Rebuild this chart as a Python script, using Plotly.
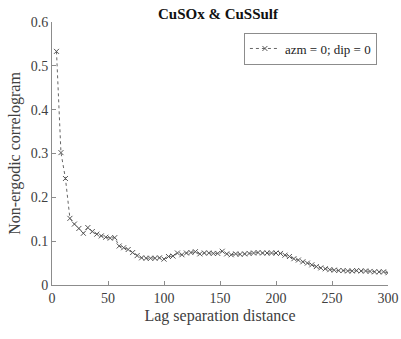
import plotly.graph_objects as go

# Lag distances (every 4 units) and correlogram values
lags = list(range(4, 301, 4))
correlogram = [
    0.533, 0.302, 0.243, 0.152, 0.139, 0.129, 0.118, 0.131, 0.122, 0.116,
    0.112, 0.109, 0.107, 0.108, 0.089, 0.085, 0.081, 0.074, 0.067, 0.062,
    0.061, 0.061, 0.061, 0.062, 0.059, 0.065, 0.066, 0.073, 0.069, 0.073,
    0.074, 0.076, 0.071, 0.073, 0.073, 0.072, 0.072, 0.077, 0.071, 0.069,
    0.071, 0.070, 0.071, 0.072, 0.073, 0.074, 0.073, 0.073, 0.073, 0.073,
    0.072, 0.068, 0.065, 0.060, 0.057, 0.053, 0.050, 0.046, 0.042, 0.039,
    0.037, 0.035, 0.034, 0.033, 0.033, 0.032, 0.032, 0.033, 0.032, 0.032,
    0.031, 0.030, 0.030, 0.030, 0.028,
]
series_name = "azm = 0; dip = 0"
x_ticks = [0, 50, 100, 150, 200, 250, 300]
y_ticks = [0, 0.1, 0.2, 0.3, 0.4, 0.5, 0.6]

serif = "Liberation Serif"
axis_grey = "#8c8c8c"
text_grey = "#404040"

fig = go.Figure()
fig.add_trace(go.Scatter(
    x=lags, y=correlogram, name=series_name, mode="lines+markers",
    line=dict(color="#666666", width=1, dash="dot"),
    marker=dict(symbol="x-thin", size=5, color="#555555",
                line=dict(width=1, color="#555555")),
    showlegend=True,
))

axis_common = dict(
    showline=True, linecolor=axis_grey, linewidth=1,
    ticks="inside", ticklen=4, tickcolor=axis_grey,
    showgrid=False, zeroline=False, mirror=False, automargin=False,
    tickfont=dict(family=serif, size=14, color=text_grey),
)

fig.update_layout(
    width=401, height=339,
    margin=dict(l=52, r=13, t=22, b=54),
    paper_bgcolor="white", plot_bgcolor="white",
    font=dict(family=serif),
    title=dict(text="<b>CuSOx & CuSSulf</b>", x=218 / 401, xanchor="center",
               y=1 - 14 / 339, yanchor="middle",
               font=dict(family=serif, size=15, color="#111111")),
    xaxis=dict(range=[0, 300], tickvals=x_ticks, **axis_common,
               title=dict(text="Lag separation distance", standoff=5,
                          font=dict(family=serif, size=16, color=text_grey))),
    yaxis=dict(range=[0, 0.6], tickvals=y_ticks, **axis_common,
               title=dict(text="Non-ergodic correlogram", standoff=6,
                          font=dict(family=serif, size=16, color=text_grey))),
    legend=dict(x=0.967, y=0.96, xanchor="right", yanchor="top",
                bgcolor="white", bordercolor=axis_grey, borderwidth=1,
                font=dict(family=serif, size=13, color="#222222"),
                itemwidth=30, tracegroupgap=0),
)

fig.write_html("out.html")
